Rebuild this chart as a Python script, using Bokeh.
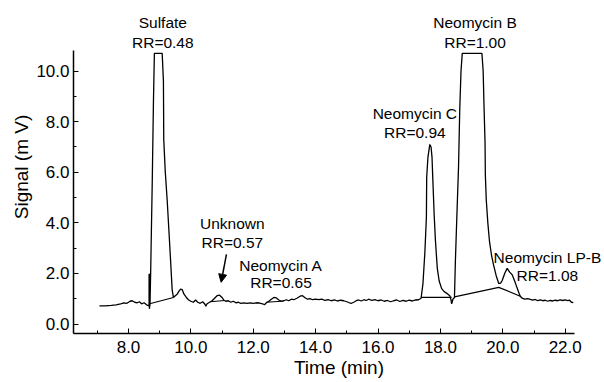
from bokeh.plotting import figure
from bokeh.models import (Label, Arrow, NormalHead, SingleIntervalTicker,
                          NumeralTickFormatter, Range1d)
from bokeh.embed import file_html
from bokeh.resources import INLINE

# ---- data ----
time_min = [7.07, 7.25, 7.45, 7.6, 7.75, 7.85, 7.95, 8.05, 8.12, 8.2, 8.28, 8.35, 8.42, 8.5, 8.58, 8.64,
            8.66, 8.66, 8.67, 8.67, 8.69, 8.71, 8.76, 8.80, 8.83, 9.08, 9.12, 9.13, 9.18, 9.24, 9.30, 9.35,
            9.40, 9.44, 9.50, 9.56, 9.62, 9.67, 9.72, 9.78, 9.85, 9.92, 10.0, 10.08, 10.15, 10.22, 10.3,
            10.38, 10.45, 10.48, 10.52, 10.6, 10.68, 10.76, 10.84, 10.92, 10.99, 11.06, 11.12, 11.2, 11.28,
            11.36, 11.44, 11.52, 11.6, 11.7, 11.8, 11.9, 12.0, 12.1, 12.2, 12.3, 12.36, 12.42, 12.5, 12.58,
            12.66, 12.74, 12.82, 12.9, 12.98, 13.06, 13.14, 13.22, 13.3, 13.4, 13.5, 13.58, 13.66, 13.74,
            13.82, 13.9, 14.0, 14.1, 14.2, 14.3, 14.4, 14.5, 14.6, 14.7, 14.8, 14.9, 15.0, 15.08, 15.15,
            15.22, 15.3, 15.38, 15.46, 15.55, 15.62, 15.7, 15.8, 15.9, 16.0, 16.1, 16.2, 16.3, 16.4, 16.5,
            16.6, 16.7, 16.8, 16.9, 17.0, 17.1, 17.2, 17.3, 17.38, 17.44, 17.50, 17.55, 17.56, 17.60, 17.66,
            17.70, 17.73, 17.76, 17.80, 17.84, 17.90, 17.96, 18.04, 18.12, 18.22, 18.30, 18.34, 18.36, 18.40,
            18.45, 18.48, 18.52, 18.58, 18.62, 18.66, 18.70, 19.33, 19.37, 19.40, 19.43, 19.44, 19.47, 19.52,
            19.57, 19.64, 19.71, 19.79, 19.87, 19.93, 19.98, 20.06, 20.14, 20.22, 20.30, 20.38, 20.46, 20.52,
            20.56, 20.62, 20.7, 20.8, 20.88, 20.96, 21.04, 21.12, 21.2, 21.28, 21.36, 21.44, 21.52, 21.6,
            21.68, 21.76, 21.84, 21.92, 22.0, 22.08, 22.14, 22.2, 22.26]
signal_mv = [0.72, 0.72, 0.74, 0.76, 0.80, 0.84, 0.82, 0.90, 0.92, 0.86, 0.84, 0.88, 0.80, 0.84, 0.76, 0.73,
             0.72, 1.97, 1.97, 0.60, 0.80, 2.0, 5.5, 8.8, 10.7, 10.7, 9.6, 7.3, 6.0, 4.9, 3.6, 2.5,
             1.35, 1.05, 1.12, 1.18, 1.30, 1.38, 1.36, 1.18, 1.06, 0.96, 0.90, 0.86, 0.95, 0.86, 0.82,
             0.88, 0.78, 0.70, 0.80, 0.86, 0.92, 1.02, 1.12, 1.14, 1.06, 0.94, 0.90, 0.92, 0.86,
             0.90, 0.84, 0.86, 0.82, 0.84, 0.82, 0.84, 0.82, 0.84, 0.83, 0.80, 0.76, 0.84, 0.90, 0.98,
             1.05, 1.03, 0.95, 0.90, 0.92, 0.96, 0.92, 0.98, 0.96, 1.02, 1.10, 1.12, 1.04, 0.98,
             1.00, 0.96, 0.98, 0.96, 0.98, 0.93, 0.96, 0.92, 0.95, 0.91, 0.94, 0.92, 0.88, 0.84, 0.82,
             0.86, 0.92, 0.95, 0.91, 0.96, 0.93, 0.98, 0.93, 0.96, 0.92, 0.95, 0.90, 0.93, 0.88, 0.92,
             0.95, 0.89, 0.93, 0.90, 0.94, 0.91, 0.95, 0.96, 1.02, 1.6, 2.8, 4.2, 5.8, 6.6, 7.1,
             7.0, 6.6, 5.6, 4.3, 3.3, 2.2, 1.7, 1.4, 1.28, 1.2, 1.12, 0.95, 0.80, 0.98,
             1.05, 2.5, 4.0, 6.2, 8.5, 10.0, 10.7, 10.7, 10.0, 8.5, 7.2, 5.9, 4.9, 4.0,
             3.3, 2.7, 2.3, 1.9, 1.6, 1.62, 1.72, 2.0, 2.2, 2.05, 1.95, 1.7, 1.42, 1.22,
             1.10, 1.02, 0.98, 1.00, 0.97, 0.94, 0.97, 0.92, 0.95, 0.92, 0.94, 0.90, 0.93, 0.91,
             0.94, 0.92, 0.95, 0.93, 0.95, 0.92, 0.94, 0.86, 0.85]

# integration baselines drawn under the peaks
baseline_x = [[8.68, 9.44], [10.62, 11.08], [12.42, 12.90], [17.38, 18.36], [18.45, 19.87, 20.56]]
baseline_y = [[0.80, 1.05], [0.88, 0.93], [0.86, 0.90], [1.05, 1.05], [1.07, 1.45, 1.10]]

peak_names = ["Sulfate", "Unknown", "Neomycin A", "Neomycin C", "Neomycin B", "Neomycin LP-B"]
peak_rr = ["RR=0.48", "RR=0.57", "RR=0.65", "RR=0.94", "RR=1.00", "RR=1.08"]
# label anchor positions (data units): name line and RR line
label_x = [9.10, 11.33, 12.89, 17.18, 19.11, 21.43]
name_y = [11.93, 3.97, 2.31, 8.32, 11.91, 2.63]
rr_y = [11.14, 3.22, 1.64, 7.57, 11.14, 1.92]

FONT = "Liberation Sans"

# the drawn axes stop at these limits; the frame extends further so the labels are not clipped
X_AXIS = (6.237, 22.295)
Y_AXIS = (-0.375, 10.81)

p = figure(width=604, height=382, output_backend="svg", toolbar_location=None,
           x_range=Range1d(6.237, 23.26), y_range=Range1d(-0.375, 12.79),
           min_border_left=73, min_border_right=0, min_border_top=0, min_border_bottom=49,
           x_axis_label="Time (min)", y_axis_label="Signal (m V)")
p.outline_line_color = None
p.xgrid.visible = False
p.ygrid.visible = False
p.background_fill_color = "white"
p.border_fill_color = "white"

p.line(time_min, signal_mv, line_color="black", line_width=1.3)
p.multi_line(baseline_x, baseline_y, line_color="black", line_width=1.2)

for ax in (p.xaxis, p.yaxis):
    ax.ticker = SingleIntervalTicker(interval=2, num_minor_ticks=2)
    ax.formatter = NumeralTickFormatter(format="0.0")
    ax.major_tick_in = 5
    ax.major_tick_out = 0
    ax.minor_tick_in = 3
    ax.minor_tick_out = 0
    ax.axis_line_width = 1.5
    ax.axis_line_color = "black"
    ax.major_tick_line_color = "black"
    ax.minor_tick_line_color = "black"
    ax.major_label_text_font = FONT
    ax.major_label_text_font_size = "17px"
    ax.major_label_text_color = "black"
    ax.axis_label_text_font = FONT
    ax.axis_label_text_font_size = "19px"
    ax.axis_label_text_font_style = "normal"
    ax.axis_label_text_color = "black"
p.xaxis.bounds = X_AXIS
p.yaxis.bounds = Y_AXIS
p.xaxis.major_label_standoff = 7
p.yaxis.major_label_standoff = 4
p.xaxis.axis_label_standoff = 1
p.yaxis.axis_label_standoff = 1

for nm, rr, lx, ny, ry in zip(peak_names, peak_rr, label_x, name_y, rr_y):
    for txt, ty in ((nm, ny), (rr, ry)):
        p.add_layout(Label(x=lx, y=ty, text=txt, text_align="center", text_baseline="middle",
                           text_font=FONT, text_font_size="15.5px", text_color="black"))

p.add_layout(Arrow(end=NormalHead(size=8, fill_color="black", line_color="black"),
                   x_start=11.14, y_start=2.75, x_end=10.97, y_end=1.65,
                   line_color="black", line_width=1.5))

open("out.html", "w").write(file_html(p, INLINE))
